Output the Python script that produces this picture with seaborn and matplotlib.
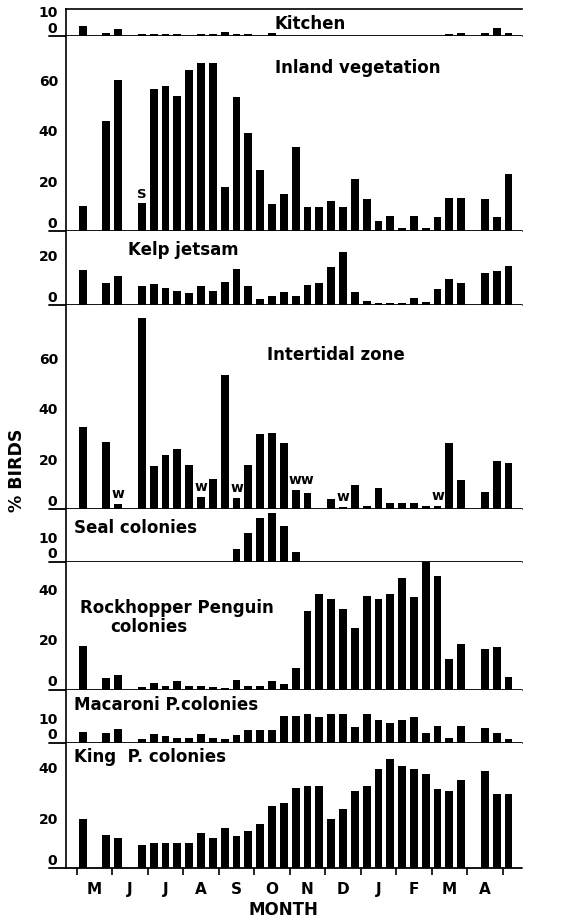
import matplotlib
matplotlib.use("Agg")
import matplotlib.pyplot as plt
import matplotlib.transforms as mtransforms
import pandas as pd
import seaborn as sns

n = None
# ten-day periods from early May to late April, 37 slots
slots = list(range(37))
months = ["M", "J", "J", "A", "S", "O", "N", "D", "J", "F", "M", "A"]

kitchen = [3.8, n, 1.0, 2.6, n, 0.8, 0.8, 0.8, 0.8, n, 0.9, 0.9, 1.6, 0.9, 0.8, n, 1.0,
           n, n, n, n, n, n, n, n, n, n, n, n, n, n,
           0.8, 1.2, n, 1.2, 3.3, 1.3]
inland = [10.1, n, 43.5, 59.7, n, 11, 56.2, 57.1, 53.2, 63.4, 66.5, 66.2, 17.3, 53, 38.6,
          24.3, 10.8, 14.7, 33.1, 9.5, 9.4, 12.1, 9.4, 20.4, 12.6, 4.2, 6, 1.3, 6, 1.3, 5.6,
          13, 13, n, 12.6, 5.6, 22.7]
kelp = [14.1, n, 8.8, 11.8, n, 7.8, 8.3, 7, 5.9, 5, 7.5, 5.7, 9.2, 14.3, 7.5, 2.6, 3.6,
        5.5, 3.6, 8.2, 8.8, 15.1, 21, 5.3, 1.8, 0.9, 0.9, 0.9, 2.8, 1.2, 6.6, 10.5, 8.8, n,
        12.8, 13.6, 15.4]
intertidal = [32.5, n, 26.5, 2, n, 75.4, 16.9, 21.3, 23.8, 17.6, 5.0, 11.9, 52.9, 4.6,
              17.5, 29.8, 30.2, 26.2, 7.7, 6.3, n, 4, 1.0, 9.4, 1.5, 8.3, 2.6, 2.6, 2.6,
              1.3, 1.5, 26.2, 11.4, n, 7, 19, 18.3]
seal = [n] * 13 + [5.1, 11.1, 17.1, 19.1, 14, 3.7] + [n] * 18
rockhopper = [17.1, n, 4.7, 5.6, n, 1.0, 2.7, 1.6, 3.3, 1.6, 1.6, 1.0, 0.8, 3.6, 1.3, 1.3,
              3.3, 2.3, 8.4, 30.9, 37.7, 35.7, 31.7, 24.4, 36.9, 35.7, 37.6, 44, 36.4, 50.3,
              44.7, 12, 17.9, n, 16, 16.7, 4.9]
macaroni = [4.3, n, 3.6, 5.2, n, 1.3, 3.3, 2.5, 1.6, 1.6, 3.2, 1.6, 1.2, 2.8, 4.9, 4.9,
            4.9, 10.3, 10.3, 11.3, 9.9, 11.2, 11.2, 6, 11.3, 8.7, 7.6, 8.9, 9.9, 3.6, 6.7,
            1.6, 6.7, n, 5.9, 3.6, 1.3]
king = [19.4, n, 13.1, 11.9, n, 9.1, 9.7, 9.7, 9.7, 9.7, 13.9, 11.9, 15.6, 12.5, 14.5,
        17.5, 24.5, 25.6, 31.4, 32.5, 32.2, 19.4, 23.2, 30.5, 32.3, 39.2, 43.1, 40.1, 39,
        36.9, 31.2, 30.3, 34.9, n, 38.2, 29.1, 29.1]

# (values, y top, tick values, labelled ticks)
panels = [
    (kitchen, 10.6, [10], [10]),
    (inland, 77, [10, 20, 30, 40, 50, 60, 70], [20, 40, 60]),
    (kelp, 29.3, [10, 20], [20]),
    (intertidal, 80.4, [10, 20, 30, 40, 50, 60, 70], [20, 40, 60]),
    (seal, 20.6, [10], [10]),
    (rockhopper, 50.5, [10, 20, 30, 40], [20, 40]),
    (macaroni, 20.9, [10], [10]),
    (king, 49.5, [10, 20, 30, 40], [20, 40]),
]

# panel names with their position in pixels (left x, centre y)
titles = [
    ("Kitchen", 275, 24),
    ("Inland vegetation", 275, 68),
    ("Kelp jetsam", 128, 250),
    ("Intertidal zone", 267, 355),
    ("Seal colonies", 74, 528),
    ("Rockhopper Penguin", 80, 608),
    ("colonies", 110, 627),
    ("Macaroni P.colonies", 74, 705),
    ("King  P. colonies", 74, 757),
]

sns.set_style("white")
plt.rcParams["font.family"] = ["DejaVu Sans"]
plt.rcParams["font.weight"] = "bold"
for key in ["text.color", "axes.labelcolor", "xtick.color", "ytick.color",
            "axes.edgecolor"]:
    plt.rcParams[key] = "black"

W, H = 563, 920
fig = plt.figure(figsize=(W / 100, H / 100), dpi=100)
gs = fig.add_gridspec(len(panels), 1, height_ratios=[p[1] for p in panels],
                      left=0.1167, right=0.927, top=0.989, bottom=0.0554, hspace=0)

axes = []
for i, (vals, top, ticks, labelled) in enumerate(panels):
    ax = fig.add_subplot(gs[i])
    df = pd.DataFrame({"slot": slots, "pct": vals}).dropna()
    sns.barplot(data=df, x="slot", y="pct", native_scale=True, color="black",
                saturation=1, width=0.66, errorbar=None, linewidth=0, ax=ax)
    ax.set_xlim(-1.44, 37.13)
    ax.set_ylim(0, top)
    ax.set_xlabel("")
    ax.set_ylabel("")
    for s in ["right", "bottom"]:
        ax.spines[s].set_visible(False)
    ax.spines["top"].set_visible(i == 0)
    ax.spines["left"].set_linewidth(1.2)
    ax.spines["top"].set_linewidth(1.2)
    ax.plot([-0.037, 1], [0, 0], transform=ax.transAxes, color="black",
            lw=1.3, clip_on=False, zorder=0.5)
    ax.set_yticks(ticks)
    ax.set_yticklabels([str(t) if t in labelled else "" for t in ticks])
    ax.tick_params(axis="y", direction="inout", length=9, width=1.2, pad=1,
                   labelsize=10)
    trans = mtransforms.blended_transform_factory(ax.transAxes, ax.transData)
    ax.text(-0.019, 3.2, "0", transform=trans, ha="right", va="center", fontsize=10)
    ax.tick_params(axis="x", bottom=False, labelbottom=False)
    axes.append(ax)

# month ticks on the bottom panel
ax = axes[-1]
ax.set_xticks([-0.5 + 3 * k for k in range(13)])
ax.set_xticks([1 + 3 * k for k in range(12)], minor=True)
ax.set_xticklabels(months, minor=True)
ax.tick_params(axis="x", which="major", bottom=True, direction="out", length=5,
               width=1.2, labelbottom=False)
ax.tick_params(axis="x", which="minor", bottom=True, length=0, pad=9,
               labelbottom=True, labelsize=11)

# small letters over some bars
axes[1].text(5, 12.5, "S", ha="center", va="bottom", fontsize=9.5)
for s in [3, 10, 13, 22, 30]:
    axes[3].text(s, intertidal[s] + 1.5, "w", ha="center", va="bottom", fontsize=10)
axes[3].text(18.5, 9.2, "ww", ha="center", va="bottom", fontsize=10)

for name, x, y in titles:
    fig.text(x / W, 1 - y / H, name, ha="left", va="center", fontsize=12)

fig.text(17 / W, 1 - 470 / H, "% BIRDS", rotation=90, ha="center", va="center",
         fontsize=12.5)
fig.text(283 / W, 1 - 910 / H, "MONTH", ha="center", va="center", fontsize=12)

fig.savefig("out.png", dpi=100, facecolor="white")
